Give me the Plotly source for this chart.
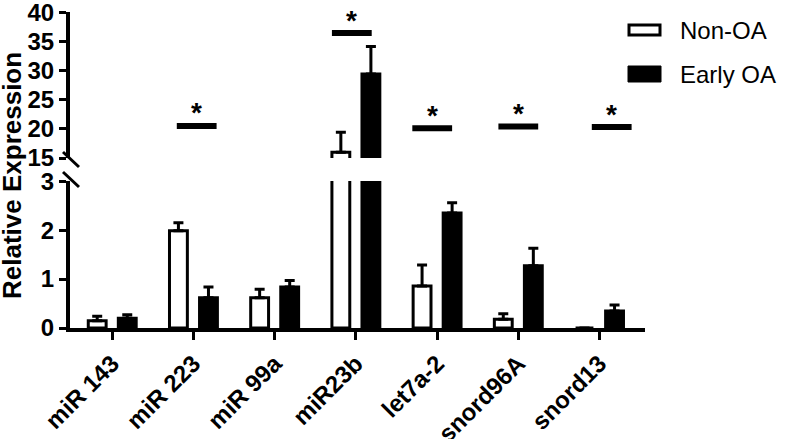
import plotly.graph_objects as go

# ---------------- data ----------------
categories = ["miR 143", "miR 223", "miR 99a", "miR23b", "let7a-2", "snord96A", "snord13"]
non_oa = [0.15, 1.99, 0.62, 16.0, 0.86, 0.18, 0.0]
non_oa_err = [0.09, 0.16, 0.17, 3.4, 0.43, 0.11, 0.0]
early_oa = [0.20, 0.62, 0.84, 29.4, 2.35, 1.27, 0.35]
early_oa_err = [0.07, 0.22, 0.13, 4.7, 0.21, 0.36, 0.12]

lower_ticks = [0, 1, 2, 3]
upper_ticks = [15, 20, 25, 30, 35, 40]

# significance markers (category index centre, height on upper axis)
sig_center = [1.04, 2.95, 3.94, 5.0, 6.15]
sig_height = [20.5, 36.4, 20.1, 20.4, 20.3]

# ---------------- layout geometry ----------------
W, H = 787, 439
ML, MR, MT, MB = 70, 142, 12, 111
PW = W - ML - MR
PH = H - MT - MB


def px_x(px):
    return (px - ML) / PW


def px_y(py):
    return (H - MB - py) / PH


lower_dom = [0, px_y(181)]
upper_dom = [px_y(158), 1]
xr = [-0.52, 6.56]

FONT = "Liberation Sans, Arial, sans-serif"
xs = list(range(len(categories)))
bw = 0.22
off = 0.185

fig = go.Figure()
for xa, ya in (("x", "y"), ("x2", "y2")):
    fig.add_trace(go.Bar(
        x=xs, y=non_oa, width=bw, offset=-off - bw / 2,
        marker=dict(color="white", line=dict(color="black", width=3)),
        error_y=dict(type="data", array=non_oa_err, arrayminus=[0] * 7, symmetric=False,
                     color="black", thickness=3, width=5),
        xaxis=xa, yaxis=ya, name="Non-OA", showlegend=False))
    fig.add_trace(go.Bar(
        x=xs, y=early_oa, width=bw, offset=off - bw / 2,
        marker=dict(color="black", line=dict(color="black", width=3)),
        error_y=dict(type="data", array=early_oa_err, arrayminus=[0] * 7, symmetric=False,
                     color="black", thickness=3, width=5),
        xaxis=xa, yaxis=ya, name="Early OA", showlegend=False))

axis_common = dict(showline=True, linecolor="black", linewidth=4, ticks="outside",
                   tickwidth=3, ticklen=7, tickcolor="black", showgrid=False, zeroline=False,
                   ticklabeloverflow="allow",
                   tickfont=dict(family=FONT, size=24, color="black", weight="bold"))

shapes = []
annotations = []
for c, h in zip(sig_center, sig_height):
    shapes.append(dict(type="line", xref="x2", yref="y2", x0=c - 0.245, x1=c + 0.245,
                       y0=h, y1=h, line=dict(color="black", width=6)))
    annotations.append(dict(x=c, y=h, xref="x2", yref="y2", text="<b>*</b>", showarrow=False,
                            yanchor="middle", yshift=13,
                            font=dict(family=FONT, size=28, color="black")))

# axis break slashes
for y0, y1 in ((152, 167), (172, 187)):
    shapes.append(dict(type="line", xref="paper", yref="paper", x0=px_x(63), x1=px_x(79),
                       y0=px_y(y0), y1=px_y(y1), line=dict(color="black", width=3)))

# manual legend
shapes.append(dict(type="rect", xref="paper", yref="paper", x0=px_x(629), x1=px_x(660),
                   y0=px_y(25), y1=px_y(35), line=dict(color="black", width=3), fillcolor="white"))
shapes.append(dict(type="rect", xref="paper", yref="paper", x0=px_x(628), x1=px_x(661),
                   y0=px_y(66), y1=px_y(82), line=dict(color="black", width=1), fillcolor="black"))
annotations.append(dict(x=px_x(678), y=px_y(31), xref="paper", yref="paper", text="Non-OA",
                        showarrow=False, xanchor="left", yanchor="middle",
                        font=dict(family=FONT, size=24, color="black")))
annotations.append(dict(x=px_x(678), y=px_y(74), xref="paper", yref="paper", text="Early OA",
                        showarrow=False, xanchor="left", yanchor="middle",
                        font=dict(family=FONT, size=24, color="black")))
# y title
annotations.append(dict(x=px_x(12), y=px_y(176), xref="paper", yref="paper",
                        text="<b>Relative Expression</b>", textangle=-90, showarrow=False,
                        xanchor="center", yanchor="middle",
                        font=dict(family=FONT, size=26, color="black")))

fig.update_layout(
    width=W, height=H,
    margin=dict(l=ML, r=MR, t=MT, b=MB, autoexpand=False),
    paper_bgcolor="white", plot_bgcolor="white",
    barmode="overlay", showlegend=False,
    xaxis=dict(axis_common, range=xr, tickvals=xs, ticktext=categories, tickangle=-45,
               anchor="y", ticklen=8),
    xaxis2=dict(range=xr, anchor="y2", visible=False, matches="x"),
    yaxis=dict(axis_common, range=[0, 3.005], domain=lower_dom, tickvals=lower_ticks, anchor="x"),
    yaxis2=dict(axis_common, range=[15, 40.02], domain=upper_dom, tickvals=upper_ticks, anchor="x2"),
    shapes=shapes, annotations=annotations,
)

fig.write_html("out.html", config={"displayModeBar": False},
               post_script="document.body.style.margin='0px';")
